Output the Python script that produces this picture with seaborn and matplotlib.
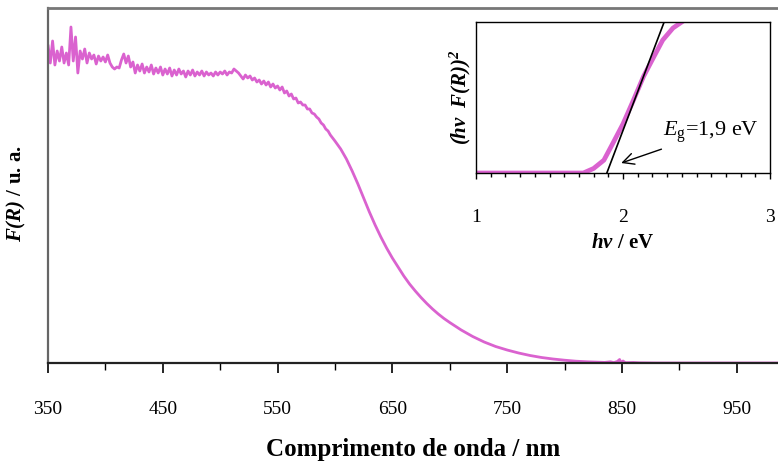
"""
Diffuse reflectance (Kubelka-Munk) spectrum with Tauc-plot inset.
"""

import pandas as pd
import matplotlib
matplotlib.use("Agg")
import matplotlib.pyplot as plt
from matplotlib.ticker import MultipleLocator, FixedLocator
import seaborn as sns

# main spectrum (arbitrary units)
# 350-598 nm sampled every 2 nm, then the smooth edge and the tail
wavelength = list(range(350, 600, 2)) + [
    600, 605, 610, 615, 620, 625, 630, 635, 640, 645, 650, 655, 660, 665,
    670, 675, 680, 685, 690, 695, 700, 710, 720, 730, 740, 750, 760, 770, 780,
    790, 800, 810, 820, 830, 835, 840, 843, 846, 848, 849, 851, 853, 860, 865,
    880, 1000]
f_r = [
    # 350-398
    318, 300, 322, 298, 312, 302, 316, 300, 310, 298, 336, 302, 326, 290, 312,
    304, 314, 300, 310, 304, 308, 299, 307, 302, 306,
    # 400-448
    301, 308, 300, 296, 294, 296, 295, 303, 309, 300, 307, 296, 301, 290, 298,
    292, 299, 290, 296, 291, 298, 289, 295, 290, 296,
    # 450-498
    288, 294, 289, 295, 287, 293, 288, 294, 289, 292, 286, 292, 288, 293, 287,
    291, 288, 292, 287, 291, 288, 290, 287, 291, 288,
    # 500-548
    291, 289, 292, 288, 291, 290, 294, 292, 290, 287, 284, 288, 285, 287, 283,
    285, 281, 283, 279, 282, 278, 281, 276, 279, 275,
    # 550-598
    277, 273, 276, 270, 272, 267, 269, 264, 265, 260, 261, 258, 258, 254, 254,
    250, 249, 246, 244, 240, 238, 234, 232, 228, 225,
    # 600-1000
    222, 214, 204, 192, 179, 165, 151, 138, 126, 115, 105, 96, 87, 79,
    72, 65.5, 59.5, 54, 49, 44.5, 40.5, 33, 26.5, 21, 16.5, 13, 10, 7.5, 5.5,
    4, 2.8, 1.8, 1.2, 0.8, 0.6, 1.2, 0.4, 1.5, 3.5, 0.5, 2, 0.3, 0.5, 0.2,
    0, 0]

# inset: Tauc plot
energy = [1.0, 1.2, 1.4, 1.6, 1.73, 1.80, 1.87, 1.93, 2.00, 2.07, 2.14, 2.21, 2.27, 2.34, 2.43, 2.50]
tauc = [0, 0, 0, 0, 0, 0.03, 0.085, 0.195, 0.325, 0.48, 0.64, 0.77, 0.88, 0.96, 1.02, 1.10]
fit_energy = [1.89, 2.28]
fit_tauc = [0, 1.0]

main_ticks = [350, 450, 550, 650, 750, 850, 950]
PINK = "#DA62CF"

sns.set_theme(style="white")
plt.rcParams["font.family"] = ["Liberation Serif", "DejaVu Serif"]
plt.rcParams["text.color"] = "black"
plt.rcParams["axes.labelcolor"] = "black"
plt.rcParams["xtick.color"] = "black"
plt.rcParams["mathtext.fontset"] = "custom"
plt.rcParams["mathtext.rm"] = "Liberation Serif"
plt.rcParams["mathtext.it"] = "Liberation Serif:italic"
plt.rcParams["mathtext.bf"] = "Liberation Serif:bold"
plt.rcParams["mathtext.bfit"] = "Liberation Serif:italic:bold"

spec = pd.DataFrame({"wl": wavelength, "F": f_r})
tp = pd.DataFrame({"E": energy, "T": tauc})

fig = plt.figure(figsize=(7.78, 4.63), dpi=100)
ax = fig.add_axes([48 / 778, 100 / 463, 1 - 48 / 778, 355 / 463])

sns.lineplot(data=spec, x="wl", y="F", color=PINK, linewidth=2.0, ax=ax)
ax.set_xlim(350, 986)
ax.set_ylim(0, 355)
ax.set_yticks([])
ax.xaxis.set_major_locator(FixedLocator(main_ticks))
ax.xaxis.set_minor_locator(FixedLocator([t + 50 for t in main_ticks]))
ax.tick_params(axis="x", which="major", direction="out", length=7, width=1.2,
               colors="black", labelsize=14, pad=20, bottom=True)
ax.tick_params(axis="x", which="minor", direction="out", length=5, width=1.0,
               colors="black", bottom=True)
ax.spines["right"].set_visible(False)
ax.spines["top"].set_color("#777777")
ax.spines["top"].set_linewidth(2)
ax.spines["left"].set_color("#666666")
ax.spines["left"].set_linewidth(1.6)
ax.spines["bottom"].set_color("#222222")
ax.spines["bottom"].set_linewidth(1.6)
ax.set_xlabel("Comprimento de onda / nm", fontsize=18, fontweight="bold")
ax.xaxis.set_label_coords(0.5, -0.21)
ax.set_ylabel(r"$\mathbfit{F(R)}$ / u. a.", fontsize=15, fontweight="bold")
ax.yaxis.set_label_coords(-0.027, 0.476)

# inset
ins = fig.add_axes([476 / 778, 290 / 463, 294 / 778, 151 / 463])
sns.lineplot(data=tp, x="E", y="T", color=PINK, linewidth=3.4, ax=ins)
ins.plot(fit_energy, fit_tauc, color="black", linewidth=1.2)
ins.set_xlim(1, 3)
ins.set_ylim(0, 1.0)
ins.set_yticks([])
ins.set_xticks([1, 2, 3])
ins.xaxis.set_minor_locator(MultipleLocator(0.1))
ins.tick_params(axis="x", which="major", direction="out", length=4, width=1.0,
                colors="black", labelsize=14, pad=22, bottom=True)
ins.tick_params(axis="x", which="minor", direction="out", length=3, width=1.0,
                colors="black", bottom=True)
for s in ins.spines.values():
    s.set_color("black")
    s.set_linewidth(1.0)
ins.set_xlabel(r"$\mathbfit{hv}$ / eV", fontsize=15, fontweight="bold", labelpad=5)
ins.set_ylabel(r"$\mathbfit{(hv\ \ F(R))^2}$", fontsize=15, labelpad=2)
ins.annotate(r"$E_{\rm g}$=1,9 eV", xy=(1.97, 0.06), xytext=(2.27, 0.27),
             fontsize=16, va="center",
             arrowprops=dict(arrowstyle="->", color="black", lw=1.0,
                             mutation_scale=20))

fig.savefig("out.png", dpi=100)
